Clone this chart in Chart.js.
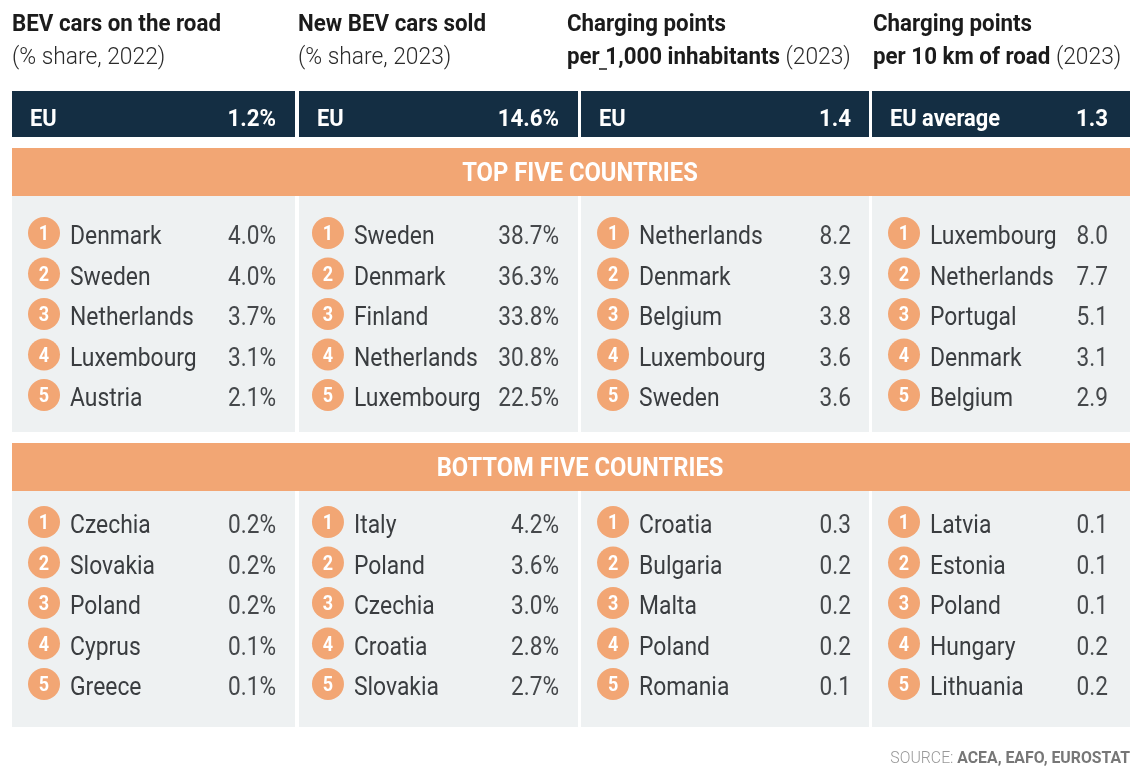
<!DOCTYPE html>
<html>
<head>
<meta charset="utf-8">
<script src="https://cdn.jsdelivr.net/npm/chart.js@4.4.1/dist/chart.umd.min.js"></script>
<style>
  html, body { margin: 0; padding: 0; background: #fff; }
  canvas { display: block; }
</style>
</head>
<body>
<canvas id="board" width="1140" height="777"></canvas>
<script>
// ---- data ----
const titles = ['BEV cars on the road', 'New BEV cars sold', 'Charging points', 'Charging points'];
const subtitleBold = ['', '', 'per 1,000 inhabitants', 'per 10 km of road'];
const subtitleLight = ['(% share, 2022)', '(% share, 2023)', ' (2023)', ' (2023)'];
const euLabels = ['EU', 'EU', 'EU', 'EU average'];
const euValues = [1.2, 14.6, 1.4, 1.3];
const units = ['%', '%', '', ''];
const sections = ['TOP FIVE COUNTRIES', 'BOTTOM FIVE COUNTRIES'];
const ranks = [1, 2, 3, 4, 5];

const topCountries = [
    ['Denmark', 'Sweden', 'Netherlands', 'Luxembourg', 'Austria'],
    ['Sweden', 'Denmark', 'Finland', 'Netherlands', 'Luxembourg'],
    ['Netherlands', 'Denmark', 'Belgium', 'Luxembourg', 'Sweden'],
    ['Luxembourg', 'Netherlands', 'Portugal', 'Denmark', 'Belgium'],
];
const topValues = [
    [4.0, 4.0, 3.7, 3.1, 2.1],
    [38.7, 36.3, 33.8, 30.8, 22.5],
    [8.2, 3.9, 3.8, 3.6, 3.6],
    [8.0, 7.7, 5.1, 3.1, 2.9],
];
const bottomCountries = [
    ['Czechia', 'Slovakia', 'Poland', 'Cyprus', 'Greece'],
    ['Italy', 'Poland', 'Czechia', 'Croatia', 'Slovakia'],
    ['Croatia', 'Bulgaria', 'Malta', 'Poland', 'Romania'],
    ['Latvia', 'Estonia', 'Poland', 'Hungary', 'Lithuania'],
];
const bottomValues = [
    [0.2, 0.2, 0.2, 0.1, 0.1],
    [4.2, 3.6, 3.0, 2.8, 2.7],
    [0.3, 0.2, 0.2, 0.2, 0.1],
    [0.1, 0.1, 0.1, 0.2, 0.2],
];
const sourceLabel = 'SOURCE: ';
const sourceText = 'ACEA, EAFO, EUROSTAT';

// ---- layout / style ----
const W = 1140, H = 777;
const colLeft = [12, 299, 581, 872];
const colRight = [295, 578, 869, 1130];
const titleLeft = [12, 298, 567, 873];
const valueInset = [19, 19, 18, 22];
const COL_W = 286.67, X0 = 44;         // circle centre of column 0, column stride
const colNudge = [0, -2.7, -4.3, 0];   // small per-column offsets (px)
const ROW_H = 40.5, ROW1_Y = 233;      // row spacing, circle centre of first row
const BOTTOM_SHIFT = (522 - 233) / ROW_H;
const NAVY = '#142e43', ORANGE = '#f2a674', PANEL = '#eef1f2';
const TEXT = '#3a3d40', VALUE = '#45484b';
const FONT = 'Roboto, "Noto Sans", sans-serif';
const SQUEEZE = 0.88;                  // fake a condensed face
const BANNER_X = 580;

function fmt(v, unit) { return v.toFixed(1) + unit; }

function drawText(ctx, s, x, y, font, color, align, sx) {
    sx = sx || SQUEEZE;
    ctx.save();
    ctx.font = font;
    ctx.fillStyle = color;
    ctx.textAlign = align || 'left';
    ctx.textBaseline = 'alphabetic';
    ctx.translate(x, y);
    ctx.scale(sx, 1);
    ctx.fillText(s, 0, 0);
    const w = ctx.measureText(s).width * sx;
    ctx.restore();
    return w;
}

function sectionData(names, values, shift) {
    const pts = [];
    names.forEach((col, c) => {
        col.forEach((name, i) => {
            pts.push({
                x: c + colNudge[c] / COL_W,
                y: ranks[i] + shift,
                rank: ranks[i], name: name, value: fmt(values[c][i], units[c]), col: c
            });
        });
    });
    return pts;
}

const tablePlugin = {
    id: 'tablePlugin',
    beforeDatasetsDraw(chart) {
        const ctx = chart.ctx;
        ctx.save();
        ctx.fillStyle = '#fff';
        ctx.fillRect(0, 0, W, H);

        // headings
        for (let c = 0; c < 4; c++) {
            const x = titleLeft[c];
            drawText(ctx, titles[c], x, 31, 'bold 24px ' + FONT, '#1b1b1b', 'left', 0.93);
            let w = 0;
            if (subtitleBold[c]) {
                w = drawText(ctx, subtitleBold[c], x, 64, 'bold 24px ' + FONT, '#1b1b1b', 'left', 0.93);
                if (c === 2) {
                    // stray underscore in "per 1,000"
                    ctx.strokeStyle = '#1b1b1b';
                    ctx.lineWidth = 1.5;
                    ctx.beginPath();
                    ctx.moveTo(x + 32, 69);
                    ctx.lineTo(x + 40, 69);
                    ctx.stroke();
                }
            }
            drawText(ctx, subtitleLight[c], x + w, 64, '300 24px ' + FONT, '#2a2a2a', 'left', 0.95);

            // EU bar
            ctx.fillStyle = NAVY;
            ctx.fillRect(colLeft[c], 91, colRight[c] - colLeft[c], 46);
            drawText(ctx, euLabels[c], colLeft[c] + 18, 126, 'bold 23px ' + FONT, '#fff', 'left', 0.95);
            drawText(ctx, fmt(euValues[c], units[c]), colRight[c] - valueInset[c], 126, 'bold 23px ' + FONT, '#fff', 'right', 0.97);
        }

        // section banners and panels
        const bands = [[148, 196, 432], [443, 491, 727]];
        bands.forEach((b, s) => {
            ctx.fillStyle = ORANGE;
            ctx.fillRect(colLeft[0], b[0], colRight[3] - colLeft[0], b[1] - b[0]);
            drawText(ctx, sections[s], BANNER_X, (b[0] + b[1]) / 2 + 9, 'bold 25px ' + FONT, '#fff', 'center', 0.95);
            ctx.fillStyle = PANEL;
            for (let c = 0; c < 4; c++) {
                ctx.fillRect(colLeft[c], b[1], colRight[c] - colLeft[c], b[2] - b[1]);
            }
        });

        // source
        const sw = drawText(ctx, sourceText, W - 10, 763, 'bold 17px ' + FONT, '#777', 'right', 0.93);
        drawText(ctx, sourceLabel, W - 10 - sw, 763, '300 17px ' + FONT, '#999', 'right', 0.93);
        ctx.restore();
    },
    afterDatasetsDraw(chart) {
        const ctx = chart.ctx;
        chart.data.datasets.forEach((ds, di) => {
            const meta = chart.getDatasetMeta(di);
            meta.data.forEach((el, i) => {
                const p = ds.data[i];
                drawText(ctx, String(p.rank), el.x, el.y + 7, 'bold 20px ' + FONT, '#fff', 'center', 0.9);
                drawText(ctx, p.name, el.x + 26, el.y + 11, '26px ' + FONT, TEXT, 'left');
                drawText(ctx, p.value, colRight[p.col] - valueInset[p.col], el.y + 11, '26px ' + FONT, VALUE, 'right', 0.87);
            });
        });
    }
};

const xMin = -X0 / COL_W;
const yMin = 1 - ROW1_Y / ROW_H;

new Chart(document.getElementById('board'), {
    type: 'scatter',
    data: {
        datasets: [
            { label: sections[0], data: sectionData(topCountries, topValues, 0) },
            { label: sections[1], data: sectionData(bottomCountries, bottomValues, BOTTOM_SHIFT) },
        ].map(d => Object.assign(d, {
            pointRadius: 16,
            pointHoverRadius: 16,
            pointBackgroundColor: ORANGE,
            pointBorderWidth: 0,
            clip: false,
        }))
    },
    options: {
        responsive: false,
        animation: false,
        devicePixelRatio: 1,
        layout: { padding: 0, autoPadding: false },
        plugins: { legend: { display: false }, tooltip: { enabled: false } },
        events: [],
        scales: {
            x: { type: 'linear', display: false, min: xMin, max: xMin + W / COL_W },
            y: { type: 'linear', display: false, reverse: true, min: yMin, max: yMin + H / ROW_H },
        }
    },
    plugins: [tablePlugin]
});
</script>
</body>
</html>
